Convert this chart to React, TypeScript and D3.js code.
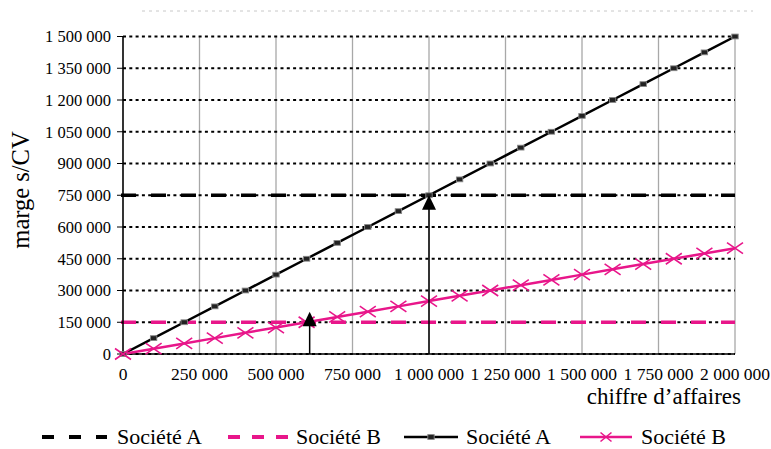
import React from "react";
import * as d3 from "d3";

// ---- data ----
const chiffreAffaires = [
  0, 100000, 200000, 300000, 400000, 500000, 600000, 700000, 800000, 900000, 1000000,
  1100000, 1200000, 1300000, 1400000, 1500000, 1600000, 1700000, 1800000, 1900000, 2000000,
];
const margeA = [
  0, 75000, 150000, 225000, 300000, 375000, 450000, 525000, 600000, 675000, 750000,
  825000, 900000, 975000, 1050000, 1125000, 1200000, 1275000, 1350000, 1425000, 1500000,
];
const margeB = [
  0, 25000, 50000, 75000, 100000, 125000, 150000, 175000, 200000, 225000, 250000,
  275000, 300000, 325000, 350000, 375000, 400000, 425000, 450000, 475000, 500000,
];
const chargesFixes = [750000, 150000]; // Société A, Société B
const xTicks = [0, 250000, 500000, 750000, 1000000, 1250000, 1500000, 1750000, 2000000];
const yTicks = [0, 150000, 300000, 450000, 600000, 750000, 900000, 1050000, 1200000, 1350000, 1500000];
const arrowX = [610000, 1000000];
const arrowTip = [200000, 750000];
const legendLabels = ["Société A", "Société B", "Société A", "Société B"];
const xTitle = "chiffre d\u2019affaires";
const yTitle = "marge s/CV";

const W = 771;
const H = 449;
const PINK = "#e8168a";
const FONT = "'Liberation Serif', 'Times New Roman', serif";
const textStyle = { fontFamily: FONT };

const x = d3.scaleLinear().domain([0, 2000000]).range([123, 735]);
const y = d3.scaleLinear().domain([0, 1500000]).range([354, 36.5]);
const fmt = (v: number) => d3.format(",")(v).replace(/,/g, " ");

const lineGen = d3
  .line<number>()
  .x((_, i) => x(chiffreAffaires[i]))
  .y((d) => y(d));

function Cross({ cx, cy, w, h }: { cx: number; cy: number; w: number; h: number }) {
  return (
    <path
      d={`M${cx - w / 2},${cy - h / 2}L${cx + w / 2},${cy + h / 2}M${cx - w / 2},${cy + h / 2}L${cx + w / 2},${cy - h / 2}`}
      stroke={PINK}
      strokeWidth={1.6}
      fill="none"
    />
  );
}

function Square({ cx, cy }: { cx: number; cy: number }) {
  return <rect x={cx - 3.2} y={cy - 2.4} width={6.4} height={4.8} fill="#222" stroke="#888" strokeWidth={0.9} />;
}

export default function App() {
  const [x0, x1] = x.range();
  const legendLines = [
    { x1: 42, x2: 107, tx: 117 },
    { x1: 228, x2: 288, tx: 296 },
    { x1: 404, x2: 458, tx: 466 },
    { x1: 580, x2: 632, tx: 641 },
  ];
  const ly = 437;
  return (
    <div style={{ position: "absolute", left: 0, top: 0 }}>
      <svg width={W} height={H} style={{ display: "block", background: "#fff" }}>
        {/* faint top border */}
        <line x1={142} x2={753} y1={11} y2={11} stroke="#c8c8c8" strokeWidth={1} strokeDasharray="3,4" />

        {/* vertical gridlines */}
        {xTicks.slice(1).map((t) => (
          <line key={"vg" + t} x1={x(t)} x2={x(t)} y1={y(1500000)} y2={y(0)} stroke="#a8a8a8" strokeWidth={1.3} />
        ))}
        {/* horizontal dotted gridlines */}
        {yTicks.map((t) => (
          <line key={"hg" + t} x1={x0} x2={x1} y1={y(t)} y2={y(t)} stroke="#000" strokeWidth={2} strokeDasharray="3,3.3" />
        ))}

        {/* fixed cost lines */}
        <line x1={121} x2={x1} y1={y(chargesFixes[0])} y2={y(chargesFixes[0])} stroke="#000" strokeWidth={3.5} strokeDasharray="15,15" />
        <line x1={121} x2={x1} y1={y(chargesFixes[1])} y2={y(chargesFixes[1])} stroke={PINK} strokeWidth={3.5} strokeDasharray="15,15" />

        {/* axes */}
        <line x1={x0} x2={x0} y1={y(1500000)} y2={y(0)} stroke="#000" strokeWidth={1.6} />
        <line x1={x0} x2={x1} y1={y(0)} y2={y(0)} stroke="#000" strokeWidth={1.6} />
        {yTicks.map((t) => (
          <line key={"yt" + t} x1={x0 - 6} x2={x0} y1={y(t)} y2={y(t)} stroke="#000" strokeWidth={1} />
        ))}
        {yTicks.map((t) => (
          <text key={"yl" + t} x={111} y={y(t)} dy="0.35em" textAnchor="end" fontSize={16.5} fill="#000" style={textStyle}>
            {fmt(t)}
          </text>
        ))}
        {xTicks.map((t) => (
          <text key={"xl" + t} x={x(t)} y={380} textAnchor="middle" fontSize={17.5} fill="#000" style={textStyle}>
            {fmt(t)}
          </text>
        ))}

        {/* series lines */}
        <path d={lineGen(margeA) || ""} fill="none" stroke="#000" strokeWidth={2.5} />
        <path d={lineGen(margeB) || ""} fill="none" stroke={PINK} strokeWidth={2.5} />
        {margeA.map((v, i) => (
          <Square key={"sa" + i} cx={x(chiffreAffaires[i])} cy={y(v)} />
        ))}
        {margeB.map((v, i) => (
          <Cross key={"cb" + i} cx={x(chiffreAffaires[i])} cy={y(v)} w={16} h={11} />
        ))}

        {/* arrows */}
        {arrowX.map((ax, i) => {
          const px = x(ax);
          const tip = y(arrowTip[i]);
          return (
            <g key={"ar" + i}>
              <line x1={px} x2={px} y1={y(0)} y2={tip + 12} stroke="#000" strokeWidth={1.5} />
              <path d={`M${px},${tip}L${px + 7},${tip + 14.5}L${px - 7},${tip + 14.5}Z`} fill="#000" />
            </g>
          );
        })}

        {/* axis titles */}
        <text x={741} y={404} textAnchor="end" fontSize={23} fill="#000" style={textStyle}>
          {xTitle}
        </text>
        <text transform="translate(29,190) rotate(-90)" textAnchor="middle" fontSize={24.5} fill="#000" style={textStyle}>
          {yTitle}
        </text>

        {/* legend */}
        <line x1={legendLines[0].x1} x2={legendLines[0].x2} y1={ly} y2={ly} stroke="#000" strokeWidth={4} strokeDasharray="12,15" />
        <line x1={legendLines[1].x1} x2={legendLines[1].x2} y1={ly} y2={ly} stroke={PINK} strokeWidth={4} strokeDasharray="12,12" />
        <line x1={legendLines[2].x1} x2={legendLines[2].x2} y1={ly} y2={ly} stroke="#000" strokeWidth={2.5} />
        <Square cx={(legendLines[2].x1 + legendLines[2].x2) / 2} cy={ly} />
        <line x1={legendLines[3].x1} x2={legendLines[3].x2} y1={ly} y2={ly} stroke={PINK} strokeWidth={2.5} />
        <Cross cx={(legendLines[3].x1 + legendLines[3].x2) / 2} cy={ly} w={11} h={9} />
        {legendLabels.map((l, i) => (
          <text key={"lg" + i} x={legendLines[i].tx} y={444} fontSize={22} fill="#000" style={textStyle}>
            {l}
          </text>
        ))}
      </svg>
    </div>
  );
}
